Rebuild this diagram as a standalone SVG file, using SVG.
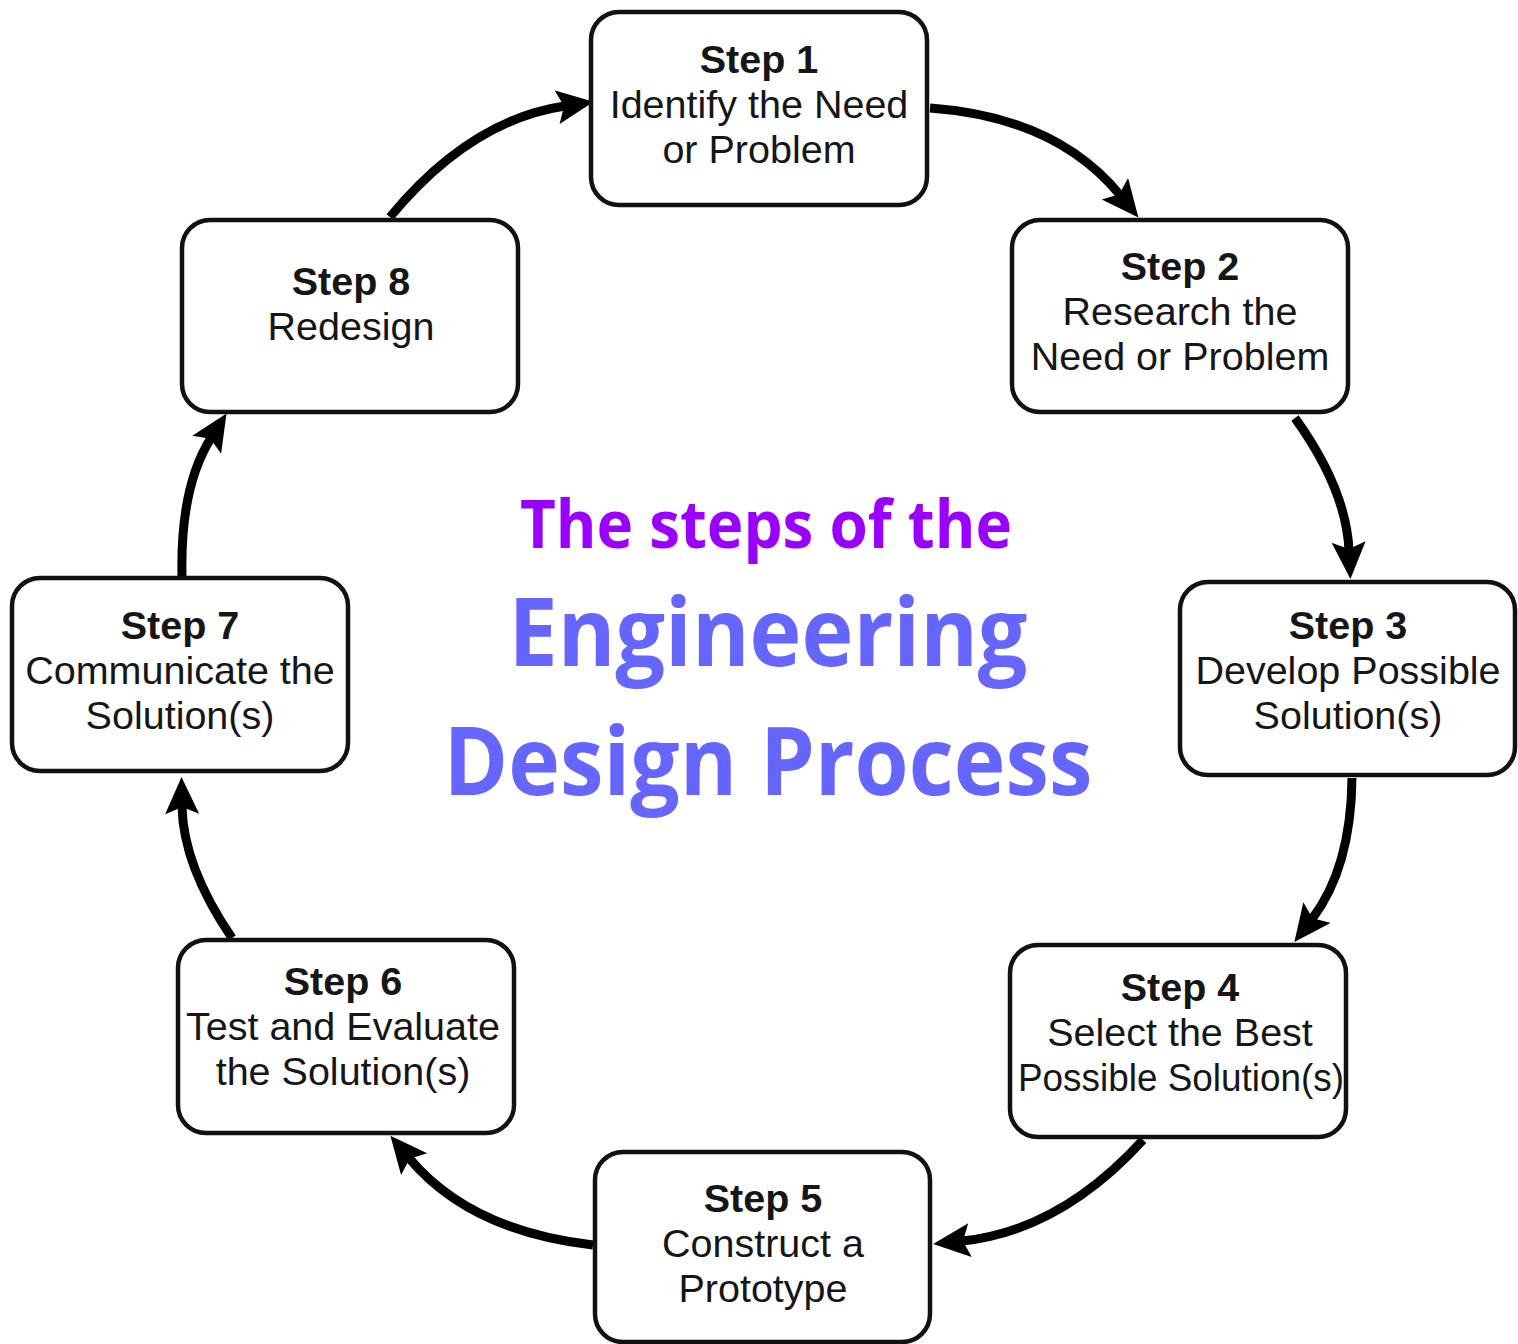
<svg xmlns="http://www.w3.org/2000/svg" width="1518" height="1344" viewBox="0 0 1518 1344">
<style>
.box{fill:#fff;stroke:#111;stroke-width:4.5}
.t{font-family:"Liberation Sans",Arial,sans-serif;font-size:39.5px;fill:#161616;text-anchor:middle}
.b{font-weight:bold}
.c{fill:none;stroke:#000;stroke-width:9}
.title{font-family:"Open Sans","Lato",sans-serif;font-weight:bold;text-anchor:middle}
</style>
<defs>
<marker id="ah" markerUnits="userSpaceOnUse" markerWidth="44" markerHeight="40" refX="8" refY="17" orient="auto">
<path d="M0,0 L37,17 L0,34 L7,17 z" fill="#000"/>
</marker>
</defs>
<rect width="1518" height="1344" fill="#fff"/>
<g id="connectors">
<path class="c" marker-end="url(#ah)" d="M930,108 Q1056,117 1120,195"/>
<path class="c" marker-end="url(#ah)" d="M1295,418 Q1346,489 1349,550"/>
<path class="c" marker-end="url(#ah)" d="M1352,778 Q1351,868 1312,919"/>
<path class="c" marker-end="url(#ah)" d="M1143,1140 Q1060,1231 962,1241"/>
<path class="c" marker-end="url(#ah)" d="M593,1245 Q470,1231 409,1158"/>
<path class="c" marker-end="url(#ah)" d="M232,938 Q183,866 182,806"/>
<path class="c" marker-end="url(#ah)" d="M182,576 Q180,487 211,438"/>
<path class="c" marker-end="url(#ah)" d="M390,217 Q470,120 565,106"/>
</g>
<g id="step1"><rect class="box" x="591" y="12" width="336" height="193" rx="28"/>
<text class="t b" x="759" y="73">Step 1</text><text class="t" x="759" y="118">Identify the Need</text><text class="t" x="759" y="163">or Problem</text></g>
<g id="step2"><rect class="box" x="1012" y="220" width="336" height="192" rx="28"/>
<text class="t b" x="1180" y="280">Step 2</text><text class="t" x="1180" y="325">Research the</text><text class="t" x="1180" y="370">Need or Problem</text></g>
<g id="step3"><rect class="box" x="1180" y="582" width="335" height="193" rx="28"/>
<text class="t b" x="1348" y="639">Step 3</text><text class="t" x="1348" y="684">Develop Possible</text><text class="t" x="1348" y="729">Solution(s)</text></g>
<g id="step4"><rect class="box" x="1010" y="945" width="336" height="192" rx="28"/>
<text class="t b" x="1180" y="1001">Step 4</text><text class="t" x="1180" y="1046">Select the Best</text><text class="t" x="1181" y="1091" textLength="326" lengthAdjust="spacingAndGlyphs">Possible Solution(s)</text></g>
<g id="step5"><rect class="box" x="595" y="1152" width="335" height="190" rx="28"/>
<text class="t b" x="763" y="1212">Step 5</text><text class="t" x="763" y="1257">Construct a</text><text class="t" x="763" y="1302">Prototype</text></g>
<g id="step6"><rect class="box" x="178" y="940" width="336" height="193" rx="28"/>
<text class="t b" x="343" y="995">Step 6</text><text class="t" x="343" y="1040">Test and Evaluate</text><text class="t" x="343" y="1085">the Solution(s)</text></g>
<g id="step7"><rect class="box" x="12" y="578" width="336" height="193" rx="28"/>
<text class="t b" x="180" y="639">Step 7</text><text class="t" x="180" y="684">Communicate the</text><text class="t" x="180" y="729">Solution(s)</text></g>
<g id="step8"><rect class="box" x="182" y="220" width="336" height="192" rx="28"/>
<text class="t b" x="351" y="295">Step 8</text><text class="t" x="351" y="340">Redesign</text></g>
<g id="title">
<text class="title" x="766" y="548" font-size="66" fill="#9900ff" textLength="492" lengthAdjust="spacingAndGlyphs">The steps of the</text>
<text class="title" x="768" y="666" font-size="95" fill="#6666ff" textLength="519" lengthAdjust="spacingAndGlyphs">Engineering</text>
<text class="title" x="768" y="795" font-size="95" fill="#6666ff" textLength="649" lengthAdjust="spacingAndGlyphs">Design Process</text>
</g>
</svg>
